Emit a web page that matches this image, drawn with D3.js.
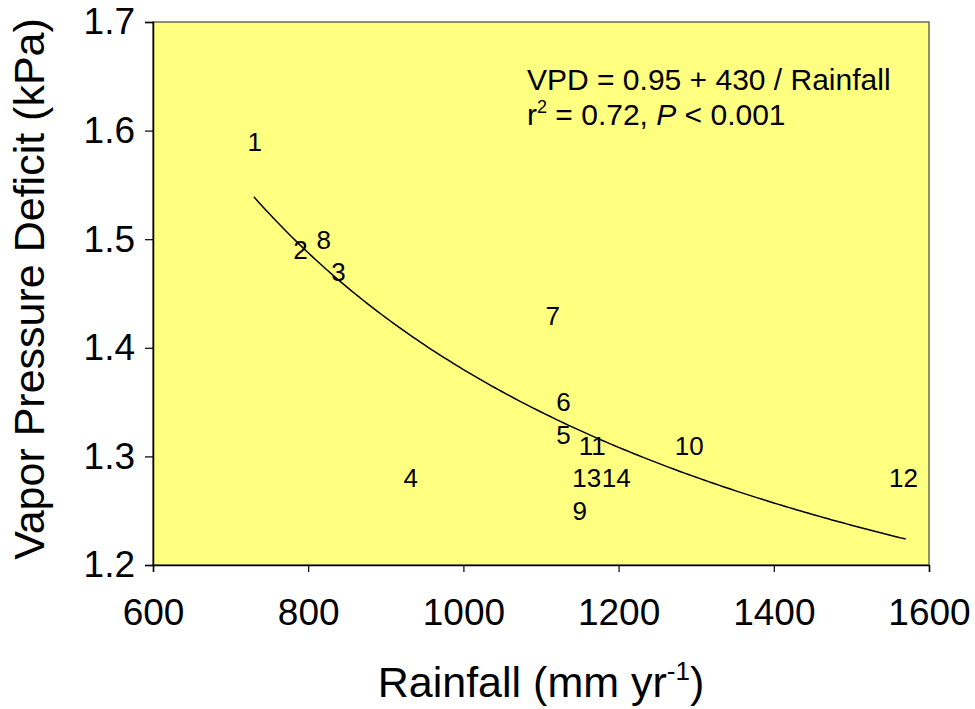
<!DOCTYPE html>
<html>
<head>
<meta charset="utf-8">
<script src="https://cdn.jsdelivr.net/npm/d3@7"></script>
<style>
  body { margin: 0; background: #fff; }
  text { font-family: "Liberation Sans", Arial, sans-serif; fill: #000; }
</style>
</head>
<body>
<div class="container"></div>
<script>
// site numbers with rainfall (mm/yr) and VPD (kPa)
const sites    = ["1", "2", "3", "4", "5", "6", "7", "8", "9", "10", "11", "12", "13", "14"];
const rainfall = [731, 790, 839, 932, 1129, 1129, 1115, 820, 1150, 1291, 1166, 1567, 1159, 1197];
const vpd      = [1.59, 1.49, 1.47, 1.28, 1.32, 1.35, 1.43, 1.50, 1.25, 1.31, 1.31, 1.28, 1.28, 1.28];
const xTicks = [600, 800, 1000, 1200, 1400, 1600];
const yTicks = [1.2, 1.3, 1.4, 1.5, 1.6, 1.7];
const fitA = 0.95, fitB = 430, fitRange = [730, 1570];

const width = 975, height = 709;
const margin = {top: 22, right: 46, bottom: 144, left: 153};

const svg = d3.select(".container")
              .append("svg")
              .attr("width", width)
              .attr("height", height);

const x = d3.scaleLinear()
            .domain([600, 1600])
            .range([margin.left, width - margin.right]);
const y = d3.scaleLinear()
            .domain([1.2, 1.7])
            .range([height - margin.bottom, margin.top]);

// plot background with grey frame on top/right
svg.append("rect")
   .attr("x", x(600)).attr("y", y(1.7))
   .attr("width", x(1600) - x(600)).attr("height", y(1.2) - y(1.7))
   .attr("fill", "#ffff80")
   .attr("stroke", "#6b6b5a")
   .attr("stroke-width", 1.5);

const xAxis = svg.append("g")
   .attr("transform", `translate(0,${y(1.2)})`)
   .call(d3.axisBottom(x).tickValues(xTicks).tickSize(7).tickPadding(27).tickFormat(d3.format("d")));
const yAxis = svg.append("g")
   .attr("transform", `translate(${x(600)},0)`)
   .call(d3.axisLeft(y).tickValues(yTicks).tickSize(8).tickPadding(10).tickFormat(d3.format(".1f")));

[xAxis, yAxis].forEach(g => {
    g.select(".domain").attr("stroke", "#000").attr("stroke-width", 1.5);
    g.selectAll(".tick line").attr("stroke", "#000").attr("stroke-width", 1.2);
    g.selectAll(".tick text")
     .style("font-family", '"Liberation Sans", Arial, sans-serif')
     .style("font-size", "37px")
     .attr("fill", "#000");
});

// fitted curve
const curveData = d3.range(fitRange[0], fitRange[1] + 1, 5).map(r => [r, fitA + fitB / r]);
svg.append("path")
   .datum(curveData)
   .attr("d", d3.line().x(d => x(d[0])).y(d => y(d[1])))
   .attr("fill", "none")
   .attr("stroke", "#000")
   .attr("stroke-width", 1.5);

// site labels as markers
svg.selectAll("text.site")
   .data(sites)
   .join("text")
   .attr("class", "site")
   .attr("x", (d, i) => x(rainfall[i]))
   .attr("y", (d, i) => y(vpd[i]))
   .attr("text-anchor", "middle")
   .attr("dy", "0.36em")
   .style("font-size", "26px")
   .text(d => d);

// equation
svg.append("text")
   .attr("x", 527).attr("y", 90)
   .style("font-size", "30px")
   .text("VPD = 0.95 + 430 / Rainfall");
const eq2 = svg.append("text")
   .attr("x", 527).attr("y", 125)
   .style("font-size", "30px");
eq2.append("tspan").text("r");
eq2.append("tspan").attr("dy", -12).style("font-size", "18px").text("2");
eq2.append("tspan").attr("dy", 12).text(" = 0.72, ");
eq2.append("tspan").style("font-style", "italic").text("P");
eq2.append("tspan").text(" < 0.001");

// axis titles
const xt = svg.append("text")
   .attr("x", x(1100)).attr("y", 697)
   .attr("text-anchor", "middle")
   .style("font-size", "43px");
xt.append("tspan").text("Rainfall (mm yr");
xt.append("tspan").attr("dy", -17).style("font-size", "26px").text("-1");
xt.append("tspan").attr("dy", 17).text(")");

svg.append("text")
   .attr("transform", `translate(44,289) rotate(-90)`)
   .attr("text-anchor", "middle")
   .style("font-size", "43px")
   .text("Vapor Pressure Deficit (kPa)");
</script>
</body>
</html>
